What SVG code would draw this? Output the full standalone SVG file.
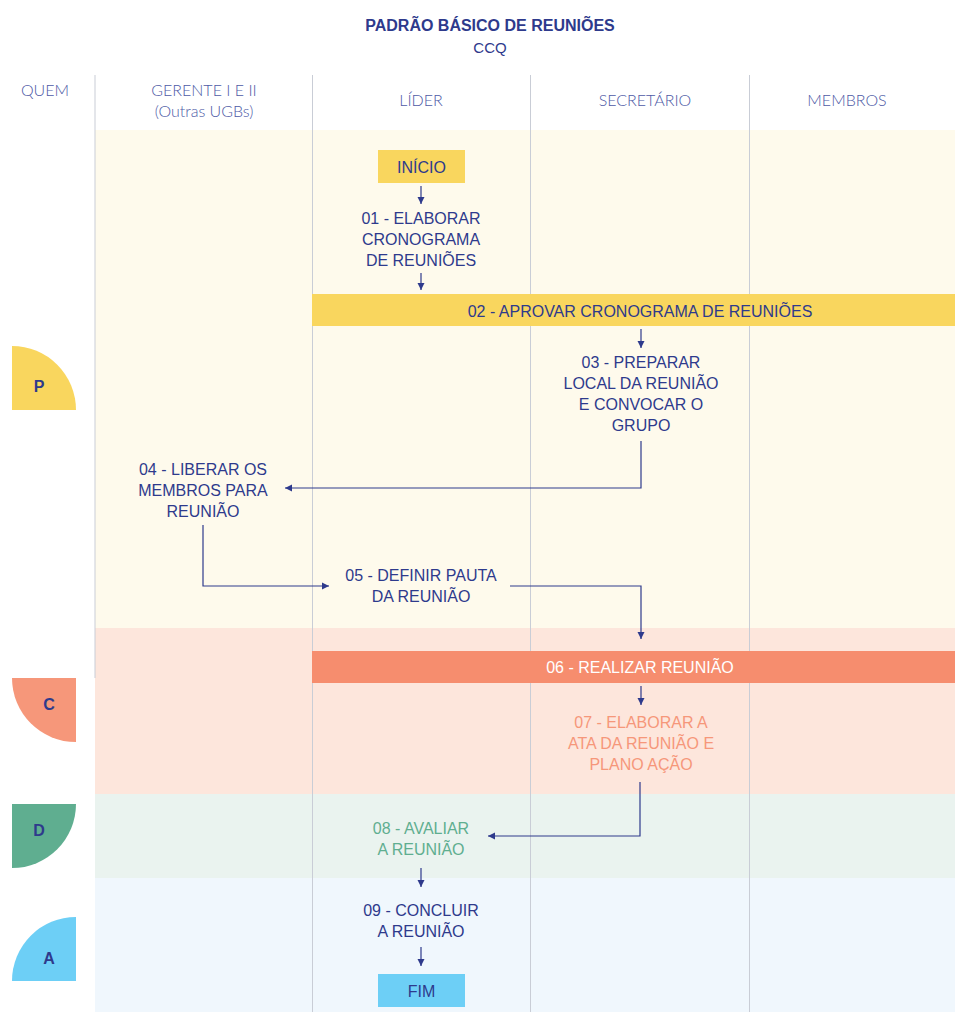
<svg xmlns="http://www.w3.org/2000/svg" width="955" height="1012" viewBox="0 0 955 1012">
<defs>
<marker id="ah" markerWidth="8" markerHeight="8" refX="7" refY="4" orient="auto" markerUnits="userSpaceOnUse">
<path d="M0,0.5 L7,4 L0,7.5 Z" fill="#2E3A8C"/>
</marker>
<style>
.t{font-family:"Liberation Sans",Arial,sans-serif;font-size:16px;fill:#2E3A8C;text-anchor:middle}
.h{font-family:Lato,"Liberation Sans",sans-serif;font-weight:300;font-size:16px;fill:#4E5AA6;text-anchor:middle}
.w{fill:#FFFFFF}
.o{fill:#F6977A}
.g{fill:#5FAE90}
.b{font-weight:bold}
.col{stroke:#C9CDD6;stroke-width:1}
.c{fill:none;stroke:#2E3A8C;stroke-width:1.2;marker-end:url(#ah)}
</style>
</defs>
<rect x="0" y="0" width="955" height="1012" fill="#FFFFFF"/>
<g id="backgrounds">
<rect x="95" y="130" width="860" height="498" fill="#FEFAEC"/>
<rect x="95" y="628" width="860" height="166" fill="#FDE6DC"/>
<rect x="95" y="794" width="860" height="84" fill="#EAF3EF"/>
<rect x="95" y="878" width="860" height="134" fill="#F0F7FD"/>
</g>
<g id="columns">
<line class="col" x1="95" y1="75" x2="95" y2="678"/>
<line class="col" x1="312.5" y1="75" x2="312.5" y2="1012"/>
<line class="col" x1="530.5" y1="75" x2="530.5" y2="1012"/>
<line class="col" x1="749.5" y1="75" x2="749.5" y2="1012"/>
</g>
<g id="title">
<text class="t b" x="490" y="31" style="font-size:16px">PADRÃO BÁSICO DE REUNIÕES</text>
<text class="t" x="490" y="53" style="font-size:15px">CCQ</text>
</g>
<g id="headers">
<text class="h" x="45" y="96">QUEM</text>
<text class="h" x="204" y="96">GERENTE I E II</text>
<text class="h" x="204" y="117">(Outras UGBs)</text>
<text class="h" x="421" y="106">LÍDER</text>
<text class="h" x="645" y="106">SECRETÁRIO</text>
<text class="h" x="847" y="106">MEMBROS</text>
</g>
<g id="pdca">
<g id="phase-P"><path d="M12,410 L12,346 A64,64 0 0 1 76,410 Z" fill="#F9D65E"/><text class="t b" x="39" y="392">P</text></g>
<g id="phase-C"><path d="M76,678 L12,678 A64,64 0 0 0 76,742 Z" fill="#F6977A"/><text class="t b" x="49" y="710">C</text></g>
<g id="phase-D"><path d="M12,804 L76,804 A64,64 0 0 1 12,868 Z" fill="#5FAE90"/><text class="t b" x="39" y="836">D</text></g>
<g id="phase-A"><path d="M76,981 L76,917 A64,64 0 0 0 12,981 Z" fill="#6DCFF6"/><text class="t b" x="49" y="964">A</text></g>
</g>
<g id="connectors">
<path class="c" d="M421,186 L421,204"/>
<path class="c" d="M421,273 L421,290"/>
<path class="c" d="M641,329 L641,348"/>
<path class="c" d="M641,441 L641,488 L285,488"/>
<path class="c" d="M203,525 L203,586 L329,586"/>
<path class="c" d="M510,586 L641,586 L641,639"/>
<path class="c" d="M641,686 L641,705"/>
<path class="c" d="M640,782 L640,836 L488,836"/>
<path class="c" d="M421,868 L421,887"/>
<path class="c" d="M421,947 L421,966"/>
</g>
<g id="inicio">
<rect x="378" y="150" width="87" height="33" fill="#F9D65E"/>
<text class="t" x="421.5" y="173">INÍCIO</text>
</g>
<g id="n01">
<text class="t" x="421" y="224">01 - ELABORAR</text>
<text class="t" x="421" y="245">CRONOGRAMA</text>
<text class="t" x="421" y="266">DE REUNIÕES</text>
</g>
<g id="n02">
<rect x="312" y="294" width="643" height="32" fill="#F9D65E"/>
<text class="t" x="640" y="317">02 - APROVAR CRONOGRAMA DE REUNIÕES</text>
</g>
<g id="n03">
<text class="t" x="641" y="368">03 - PREPARAR</text>
<text class="t" x="641" y="389">LOCAL DA REUNIÃO</text>
<text class="t" x="641" y="410">E CONVOCAR O</text>
<text class="t" x="641" y="431">GRUPO</text>
</g>
<g id="n04">
<text class="t" x="203" y="475">04 - LIBERAR OS</text>
<text class="t" x="203" y="496">MEMBROS PARA</text>
<text class="t" x="203" y="517">REUNIÃO</text>
</g>
<g id="n05">
<text class="t" x="421" y="581">05 - DEFINIR PAUTA</text>
<text class="t" x="421" y="602">DA REUNIÃO</text>
</g>
<g id="n06">
<rect x="312" y="651" width="643" height="32" fill="#F68D6E"/>
<text class="t w" x="640" y="673">06 - REALIZAR REUNIÃO</text>
</g>
<g id="n07">
<text class="t o" x="641" y="728">07 - ELABORAR A</text>
<text class="t o" x="641" y="749">ATA DA REUNIÃO E</text>
<text class="t o" x="641" y="770">PLANO AÇÃO</text>
</g>
<g id="n08">
<text class="t g" x="421" y="834">08 - AVALIAR</text>
<text class="t g" x="421" y="855">A REUNIÃO</text>
</g>
<g id="n09">
<text class="t" x="421" y="916">09 - CONCLUIR</text>
<text class="t" x="421" y="937">A REUNIÃO</text>
</g>
<g id="fim">
<rect x="378" y="974" width="87" height="33" fill="#6DCFF6"/>
<text class="t" x="421.5" y="997">FIM</text>
</g>
</svg>
